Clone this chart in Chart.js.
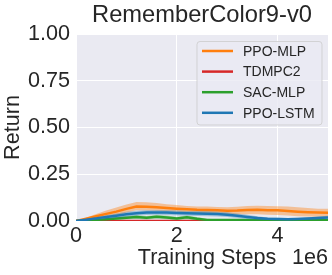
<!DOCTYPE html>
<html lang="en">
<head>
<meta charset="UTF-8">
<title>RememberColor9-v0</title>
<script src="https://cdn.jsdelivr.net/npm/chart.js"></script>
<style>
  html, body { margin: 0; padding: 0; background: #fff; }
  #wrap { width: 332px; height: 275px; }
</style>
</head>
<body>
<div id="wrap"><canvas id="chart" width="332" height="275"></canvas></div>
<script>
// training steps (x), every 0.2e6
const steps = [0, 0.2e6, 0.4e6, 0.6e6, 0.8e6, 1.0e6, 1.2e6, 1.4e6, 1.6e6, 1.8e6, 2.0e6, 2.2e6, 2.4e6,
               2.6e6, 2.8e6, 3.0e6, 3.2e6, 3.4e6, 3.6e6, 3.8e6, 4.0e6, 4.2e6, 4.4e6, 4.6e6, 4.8e6, 5.0e6];

const ppoMlp     = [0, 0.012, 0.025, 0.038, 0.050, 0.065, 0.078, 0.076, 0.074, 0.070, 0.066, 0.063, 0.060,
                    0.059, 0.057, 0.055, 0.056, 0.059, 0.060, 0.058, 0.057, 0.054, 0.050, 0.047, 0.045, 0.044];
const ppoMlpLo   = [0, 0.006, 0.013, 0.020, 0.030, 0.045, 0.057, 0.056, 0.055, 0.052, 0.049, 0.046, 0.043,
                    0.041, 0.039, 0.036, 0.035, 0.036, 0.036, 0.034, 0.032, 0.029, 0.026, 0.024, 0.023, 0.022];
const ppoMlpHi   = [0, 0.018, 0.037, 0.056, 0.072, 0.088, 0.101, 0.100, 0.096, 0.090, 0.085, 0.080, 0.077,
                    0.077, 0.075, 0.073, 0.076, 0.080, 0.081, 0.080, 0.079, 0.077, 0.073, 0.069, 0.066, 0.065];

const tdmpc2     = [0, 0, 0, 0, 0, 0, 0, 0, 0, 0, 0, 0, 0, 0, 0, 0, 0, 0, 0, 0, 0, 0, 0, 0, 0, 0];

const sacMlp     = [0, 0.003, 0.006, 0.010, 0.014, 0.018, 0.022, 0.017, 0.023, 0.019, 0.014, 0.020, 0.012,
                    0.006, 0.005, 0.006, 0.006, 0.005, 0.005, 0.005, 0.004, 0.004, 0.004, 0.005, 0.005, 0.005];
const sacMlpLo   = [0, 0.001, 0.002, 0.004, 0.006, 0.009, 0.012, 0.008, 0.013, 0.010, 0.006, 0.010, 0.004,
                    0.001, 0.001, 0.002, 0.002, 0.001, 0.001, 0.001, 0.001, 0.001, 0.001, 0.001, 0.001, 0.001];
const sacMlpHi   = [0, 0.005, 0.010, 0.016, 0.022, 0.027, 0.032, 0.027, 0.033, 0.029, 0.023, 0.030, 0.021,
                    0.012, 0.010, 0.011, 0.011, 0.010, 0.009, 0.009, 0.008, 0.008, 0.008, 0.009, 0.009, 0.009];

const ppoLstm    = [0, 0.007, 0.014, 0.021, 0.028, 0.036, 0.042, 0.045, 0.046, 0.045, 0.043, 0.041, 0.040,
                    0.039, 0.037, 0.034, 0.028, 0.022, 0.016, 0.012, 0.011, 0.010, 0.011, 0.013, 0.016, 0.019];
const ppoLstmLo  = [0, 0.003, 0.007, 0.011, 0.016, 0.023, 0.029, 0.032, 0.033, 0.032, 0.030, 0.028, 0.027,
                    0.026, 0.024, 0.021, 0.016, 0.011, 0.007, 0.005, 0.004, 0.004, 0.005, 0.006, 0.008, 0.010];
const ppoLstmHi  = [0, 0.011, 0.021, 0.031, 0.040, 0.049, 0.055, 0.058, 0.059, 0.058, 0.056, 0.054, 0.053,
                    0.052, 0.050, 0.047, 0.040, 0.033, 0.025, 0.019, 0.018, 0.016, 0.017, 0.020, 0.024, 0.028];

const xTicks = [0, 2e6, 4e6];
const yTicks = [0, 0.25, 0.5, 0.75, 1.0];

const series = [
  { label: 'PPO-MLP',  color: '#ff7f0e', band: 'rgba(255,127,14,0.40)', mean: ppoMlp,  lo: ppoMlpLo,  hi: ppoMlpHi },
  { label: 'TDMPC2',   color: '#d62728', band: null,                    mean: tdmpc2,  lo: null,      hi: null },
  { label: 'SAC-MLP',  color: '#2ca02c', band: 'rgba(44,160,44,0.30)',  mean: sacMlp,  lo: sacMlpLo,  hi: sacMlpHi },
  { label: 'PPO-LSTM', color: '#1f77b4', band: 'rgba(31,119,180,0.35)', mean: ppoLstm, lo: ppoLstmLo, hi: ppoLstmHi }
];

const pts = arr => steps.map((x, i) => ({ x: x, y: arr[i] }));

// later series drawn on top, like matplotlib
const datasets = [];
series.forEach((s, k) => {
  const base = (series.length - k) * 10;
  if (s.band) {
    datasets.push({ data: pts(s.hi), borderWidth: 0, pointRadius: 0, fill: false, order: base + 2 });
    datasets.push({ data: pts(s.lo), borderWidth: 0, pointRadius: 0, fill: '-1', backgroundColor: s.band, order: base + 1 });
  }
  datasets.push({ label: s.label, data: pts(s.mean), borderColor: s.color, borderWidth: 2.5,
                  pointRadius: 0, fill: false, tension: 0, order: base });
});

const FONT = 'Liberation Sans, Arial, sans-serif';

const bgPlugin = {
  id: 'bg',
  beforeDraw(chart) {
    const { ctx, chartArea: a } = chart;
    ctx.save();
    ctx.fillStyle = '#eaeaf2';
    ctx.fillRect(a.left, a.top, a.right - a.left, a.bottom - a.top);
    ctx.restore();
  }
};

const textPlugin = {
  id: 'texts',
  afterDraw(chart) {
    const { ctx, chartArea: a } = chart;
    ctx.save();
    ctx.fillStyle = '#262626';
    ctx.textBaseline = 'alphabetic';
    ctx.font = '23.7px ' + FONT;
    ctx.textAlign = 'center';
    ctx.fillText('RememberColor9-v0', 202, 21.5);
    ctx.font = '21.6px ' + FONT;
    ctx.fillText('Training Steps', 207, 264);
    ctx.textAlign = 'right';
    ctx.fillText('1e6', 328, 264);

    // legend
    const bx = 197, by = 41.5, bw = 125, bh = 83.5;
    ctx.beginPath();
    ctx.roundRect(bx, by, bw, bh, 3);
    ctx.fillStyle = 'rgba(234,234,242,0.8)';
    ctx.fill();
    ctx.strokeStyle = 'rgba(204,204,204,0.8)';
    ctx.lineWidth = 1;
    ctx.stroke();
    ctx.font = '14px ' + FONT;
    ctx.textAlign = 'left';
    ctx.textBaseline = 'middle';
    series.forEach((s, i) => {
      const y = 51 + i * 20.6;
      ctx.strokeStyle = s.color;
      ctx.lineWidth = 2.5;
      ctx.beginPath();
      ctx.moveTo(202, y);
      ctx.lineTo(233, y);
      ctx.stroke();
      ctx.fillStyle = '#262626';
      ctx.fillText(s.label, 243, y + 1);
    });
    ctx.restore();
  }
};

new Chart(document.getElementById('chart'), {
  type: 'line',
  data: { datasets: datasets },
  options: {
    responsive: false,
    devicePixelRatio: 1,
    animation: false,
    layout: { padding: { top: 34, right: 4, left: 0, bottom: 0 } },
    plugins: { legend: { display: false }, tooltip: { enabled: false } },
    scales: {
      x: {
        type: 'linear', min: 0, max: 5e6,
        afterFit: s => { s.height = 54; },
        afterBuildTicks: s => { s.ticks = xTicks.map(v => ({ value: v })); },
        ticks: { font: { size: 21.6, family: FONT }, color: '#262626', padding: 2,
                 callback: v => String(v / 1e6) },
        grid: { color: '#ffffff', lineWidth: 1, drawTicks: false },
        border: { display: false }
      },
      y: {
        min: 0, max: 1,
        afterFit: s => { s.width = 76; },
        afterBuildTicks: s => { s.ticks = yTicks.map(v => ({ value: v })); },
        ticks: { font: { size: 21.6, family: FONT }, color: '#262626', padding: 6,
                 callback: v => v.toFixed(2) },
        grid: { color: '#ffffff', lineWidth: 1, drawTicks: false },
        border: { display: false },
        title: { display: true, text: 'Return', font: { size: 21.6, family: FONT }, color: '#262626',
                 padding: { top: 0, bottom: 0 } }
      }
    }
  },
  plugins: [bgPlugin, textPlugin]
});
</script>
</body>
</html>
